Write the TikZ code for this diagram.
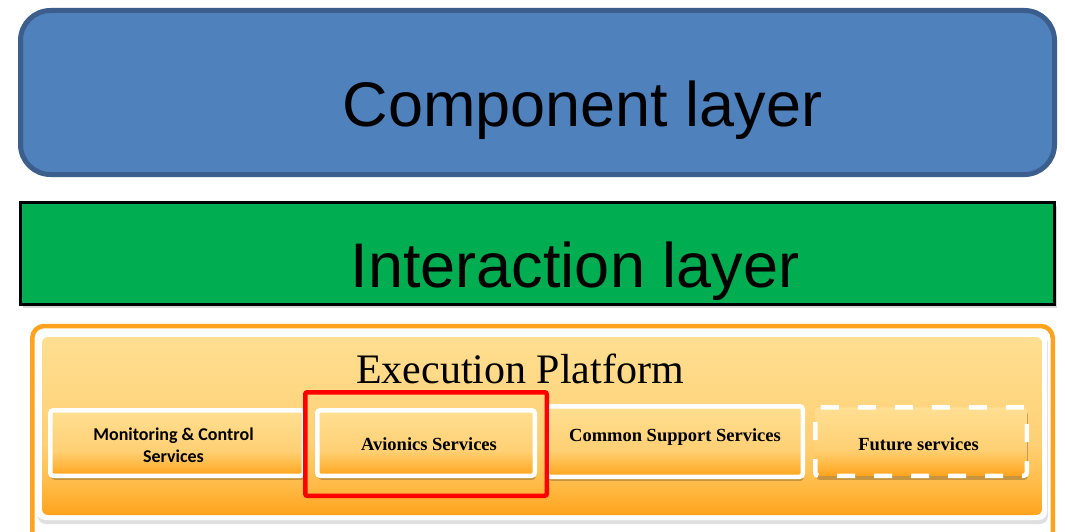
\documentclass[tikz,border=0pt]{standalone}
\usepackage{fontspec}
\setmainfont{Liberation Serif}
\newfontfamily\arialf{Liberation Sans}
\newfontfamily\calib{Carlito}
\usetikzlibrary{shadows}
\definecolor{blueF}{HTML}{4F81BD}
\definecolor{blueD}{HTML}{3B5E8D}
\definecolor{greenF}{HTML}{00AD50}
\definecolor{frameO}{HTML}{FFA31E}
\definecolor{orD}{HTML}{FFA31C}
\definecolor{orM}{HTML}{FFBA45}
\definecolor{yM}{HTML}{FFD074}
\definecolor{yL}{HTML}{FFDF92}
\definecolor{redB}{HTML}{FF0000}
\pgfdeclareverticalshading{svcshade}{100bp}{color(0bp)=(orD); color(25bp)=(orD); color(34bp)=(orM); color(44bp)=(yM); color(75bp)=(yL); color(100bp)=(yL)}
\pgfdeclareverticalshading{bigshade}{100bp}{color(0bp)=(orD); color(25bp)=(orD); color(33bp)=(orM); color(45bp)=(yM); color(75bp)=(yL); color(100bp)=(yL)}
\tikzset{
  layerlabel/.style={font=\arialf\fontsize{63}{70}\selectfont, anchor=base, inner sep=0},
  svcbox/.style={draw=white, line width=4.5pt, rounded corners=3pt, shading=svcshade, inner sep=0,
    drop shadow={opacity=0.3, shadow xshift=1pt, shadow yshift=-4pt, fill=black!60!brown}},
  svctext/.style={font=\bfseries\fontsize{18.5}{22}\selectfont, anchor=base, inner sep=0},
}
\begin{document}
\begin{tikzpicture}[x=1pt,y=-1pt]
\useasboundingbox (0,0) rectangle (1065,532);
\clip (0,0) rectangle (1065,532);
\fill[white] (0,0) rectangle (1065,532);
% component layer
\node[draw=blueD, line width=5pt, fill=blueF, rounded corners=30pt, minimum width=1034pt, minimum height=164pt, inner sep=0] (comp) at (537.5,92.5) {};
\node[layerlabel] (compT) at (582.5,127) {Component layer};
% interaction layer
\node[draw=black, line width=3pt, fill=greenF, minimum width=1034pt, minimum height=102pt, inner sep=0,
  drop shadow={opacity=0.3, shadow xshift=2pt, shadow yshift=-3pt}] (inter) at (537.5,253.5) {};
\node[layerlabel] (interT) at (575,287) {Interaction layer};
% execution platform
\node[draw=frameO, line width=4.5pt, fill=white, rounded corners=12pt, minimum width=1020.5pt, minimum height=234pt, inner sep=0] (frame) at (542.5,443) {};
\node[fill=white, rounded corners=8pt, minimum width=1010pt, minimum height=189pt, inner sep=0,
  drop shadow={opacity=0.25, shadow xshift=1pt, shadow yshift=-4pt}] (panel) at (542,425.5) {};
\node[shading=bigshade, rounded corners=6pt, minimum width=1000pt, minimum height=178pt, inner sep=0] (exec) at (542,426) {};
\node[font=\fontsize{42}{48}\selectfont, anchor=base, inner sep=0] (execT) at (520,383) {Execution Platform};
% services
\node[svcbox, minimum width=253.5pt, minimum height=65.5pt] (mon) at (177,443) {};
\node[svcbox, minimum width=217.5pt, minimum height=65.5pt] (avi) at (426,443) {};
\node[svcbox, minimum width=255.5pt, minimum height=70.5pt] (com) at (675,441.5) {};
\node[svcbox, dash pattern=on 18pt off 19pt, minimum width=211.5pt, minimum height=68.5pt] (fut) at (921,441.5) {};
\node[font=\calib\bfseries\fontsize{18}{22}\selectfont, align=center, inner sep=0] (monT) at (173.5,445) {Monitoring \& Control\\Services};
\node[svctext] (aviT) at (429,450) {Avionics Services};
\node[svctext] (comT) at (675,441) {Common Support Services};
\node[svctext] (futT) at (918.5,450) {Future services};
% highlight
\node[draw=redB, line width=4.5pt, rounded corners=2pt, minimum width=241.5pt, minimum height=103.5pt, inner sep=0] (hl) at (426,444) {};
\end{tikzpicture}
\end{document}
